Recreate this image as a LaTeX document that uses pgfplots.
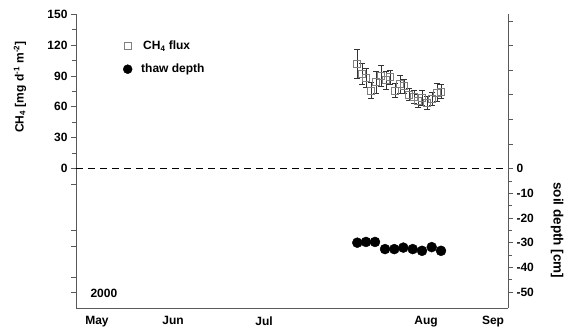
\documentclass[border=0pt]{standalone}
\usepackage{fontspec}
\setmainfont{Liberation Sans}
\usepackage{pgfplots}
\pgfplotsset{compat=1.18}
\newcommand{\lf}{\bfseries\fontsize{12}{13}\selectfont}
\begin{document}
\begin{tikzpicture}[x=1pt,y=1pt]
\useasboundingbox (-76,-24) rectangle (493,308);
\begin{axis}[
  scale only axis, width=432pt, height=294pt,
  xmin=0, xmax=432, ymin=-135, ymax=150,
  axis x line*=bottom, axis y line*=left,
  axis line style={gray!70!black, line width=0.8pt},
  xtick={21,97,188,350,417}, xticklabels={May,Jun,Jul,Aug,Sep},
  x tick style={draw=none},
  ytick={0,30,60,90,120,150},
  extra y ticks={-15,-60,-75,-105,-120},
  extra y tick labels={},
  minor y tick num=1,
  tick align=outside,
  major tick length=5pt, minor tick length=4pt,
  y tick style={gray!70!black, line width=0.7pt},
  /pgf/number format/assume math mode=true,
  tick label style={font=\lf},
  legend style={draw=none, fill=none, at={(axis cs:44,128)}, anchor=north west,
    font=\lf, row sep=9pt},
  legend cell align=left,
  clip=false,
]
\addplot[gray!70!black, line width=0.5pt, mark=square, mark size=3.5pt, only marks,
  mark options={solid, gray, line width=0.6pt},
  error bars/.cd, y dir=both, y explicit,
  error bar style={gray!40!black, line width=0.5pt},
  error mark options={rotate=90, mark size=3pt, gray!40!black}]
coordinates {
(281,102) +- (0,14)
(286,92) +- (0,10)
(290,88) +- (0,9)
(295,76) +- (0,8)
(300,84) +- (0,11)
(305,90) +- (0,10)
(310,86) +- (0,9)
(314,89) +- (0,7)
(319,76) +- (0,7)
(324,82) +- (0,9)
(328,80) +- (0,7)
(333,72) +- (0,6)
(338,70) +- (0,6)
(342,66) +- (0,6)
(346,69) +- (0,7)
(351,64) +- (0,6)
(356,68) +- (0,6)
(361,74) +- (0,9)
(365,75) +- (0,7)
};
\addlegendentry{\hspace*{9pt}CH\textsubscript{4} flux}
\addlegendimage{only marks, mark=*, mark size=4.5pt, black}
\addlegendentry{\hspace*{7pt}thaw depth}
\draw[black, line width=1.3pt, dash pattern=on 7pt off 5pt] (axis cs:0,0) -- (axis cs:432,0);
\node[font=\lf, anchor=base west] at (axis cs:11,-125) {2000};
\end{axis}
\begin{axis}[
  scale only axis, width=432pt, height=294pt,
  xmin=0, xmax=432, ymin=-56.5, ymax=62.78,
  axis x line=none, axis y line*=right,
  axis line style={gray!70!black, line width=0.8pt},
  ytick={-50,-40,-30,-20,-10,0},
  extra y ticks={10,20,30,40,50,60},
  extra y tick labels={},
  minor y tick num=1,
  tick align=outside,
  major tick length=5pt, minor tick length=4pt,
  y tick style={gray!70!black, line width=0.7pt},
  /pgf/number format/assume math mode=true,
  tick label style={font=\lf},
  clip=false,
]
\addplot[only marks, mark=*, mark size=5pt, black] coordinates {
(281.3,-30.0) (290,-29.7) (299,-29.7) (309,-32.6) (318.3,-32.6)
(327.3,-32.0) (336.7,-32.6) (346,-33.3) (355.7,-31.8) (365,-33.3)
};
\node[font=\bfseries\fontsize{13.5}{14}\selectfont, rotate=-90] at (axis cs:481,-25) {soil depth [cm]};
\end{axis}
\node[font=\lf, rotate=90] at (-56,221) {CH\textsubscript{4} [mg d\textsuperscript{-1} m\textsuperscript{-2}]};
\end{tikzpicture}
\end{document}
